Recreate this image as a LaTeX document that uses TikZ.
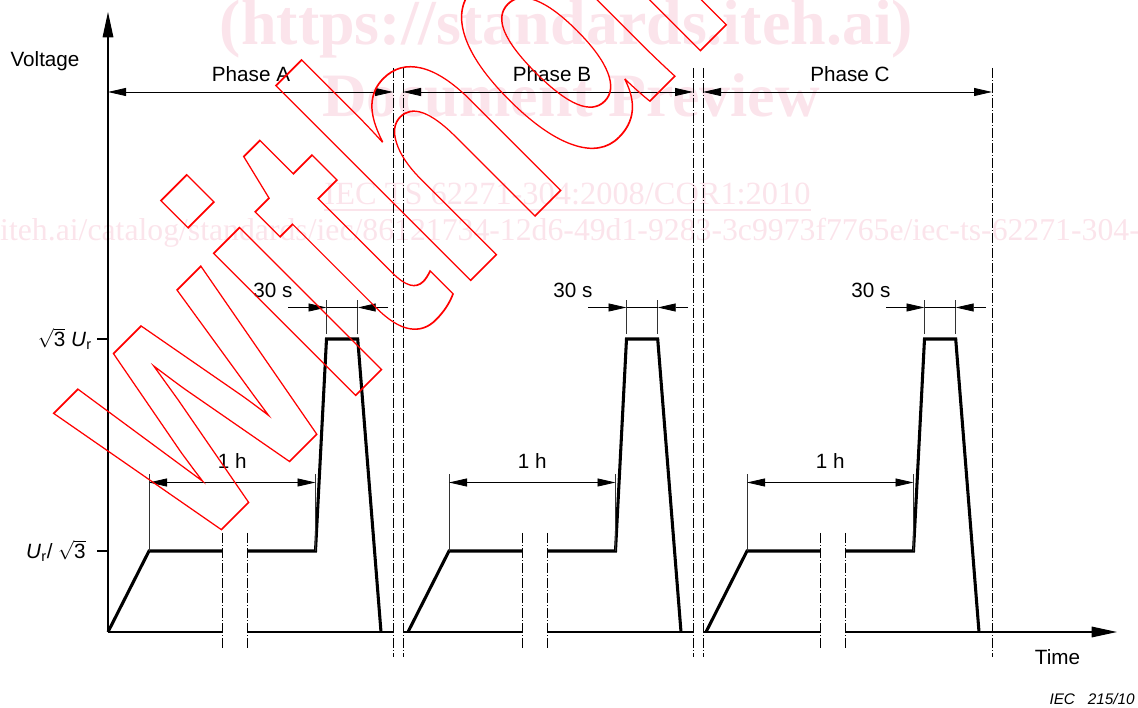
\documentclass[tikz,border=0pt]{standalone}
\usepackage{fontspec}
\setmainfont{Liberation Sans}
\newfontfamily\wmfont{Liberation Serif}
\usepackage{amsmath}
\usepackage{graphicx}
\usepackage{xcolor}
\usetikzlibrary{arrows.meta}
\definecolor{wmpink}{RGB}{251,228,235}
\definecolor{wmred}{RGB}{255,0,0}
\newcommand{\outlined}[1]{\special{pdf:literal direct 1 Tr 1.3 w}#1\special{pdf:literal direct 0 Tr}}

\begin{document}
\begin{tikzpicture}[x=0.75pt,y=0.75pt]
  \tikzset{axisline/.style={draw=black,line width=0.8pt}}
  \tikzset{axisarrow/.style={axisline,-{Triangle[length=19pt,width=8pt]}}}
  \tikzset{waveline/.style={draw=black,line width=2.3pt,line join=miter}}
  \tikzset{dimline/.style={draw=black,line width=0.6pt}}
  \tikzset{dimarrow/.style={dimline,-{Triangle[length=13.5pt,width=6pt]}}}
  \tikzset{dimboth/.style={dimline,{Triangle[length=13.5pt,width=6pt]}-{Triangle[length=13.5pt,width=6pt]}}}
  \tikzset{extline/.style={draw=black!80,line width=0.6pt}}
  \tikzset{cutline/.style={draw=black,line width=0.55pt,dash pattern=on 7.5pt off 1.5pt on 0.75pt off 1.5pt}}
  \tikzset{lbl/.style={font=\fontsize{15.5}{18}\selectfont,inner sep=0pt}}
  \tikzset{wmtext/.style={text=wmpink,inner sep=0pt}}
  \useasboundingbox (0,0) rectangle (1138,707);

  % watermark text
  \begin{scope}
    \clip (0,0) rectangle (1138,707);
    \node[wmtext,anchor=base,font=\wmfont\bfseries\fontsize{48}{52}\selectfont] (wmsite) at (566.5,662) {(https://standards.iteh.ai)};
    \node[wmtext,anchor=base,font=\wmfont\bfseries\fontsize{46.3}{50}\selectfont] (wmprev) at (571,590) {Document Preview};
    \node[wmtext,anchor=base,font=\wmfont\fontsize{24.3}{28}\selectfont] (wmstd) at (567.5,502) {\underline{IEC TS 62271-304:2008/COR1:2010}};
    \node[wmtext,anchor=base west,font=\wmfont\fontsize{23.8}{28}\selectfont] (wmlink) at (-216,466) {https://standards.iteh.ai/catalog/standards/iec/86121734-12d6-49d1-9283-3c9973f7765e/iec-ts-62271-304-2008-cor1-2010};
  \end{scope}

  % axes
  \coordinate (ytip) at (108,695);
  \coordinate (xtip) at (1117,75);
  \coordinate (tickhi) at (97,368);
  \coordinate (ticklo) at (97,156);

  % phase separators
  \foreach \n/\x in {1/393,2/403,3/693,4/703,5/992} {
    \coordinate (div\n-t) at (\x,639);
    \coordinate (div\n-b) at (\x,50);
    \coordinate (div\n-o) at (\x,75);
    \draw[cutline] (div\n-t) -- (div\n-b);
  }

  \foreach \ph/\dx in {a/0,b/300,c/598} {
    \coordinate (\ph-start) at (108+\dx,75);
    \coordinate (\ph-ramp) at (149+\dx,156);
    \coordinate (\ph-cut1) at (222+\dx,156);
    \coordinate (\ph-cut2) at (247+\dx,156);
    \coordinate (\ph-step) at (315.5+\dx,156);
    \coordinate (\ph-pkl) at (326.5+\dx,368);
    \coordinate (\ph-pkr) at (357.7+\dx,368);
    \coordinate (\ph-end) at (381+\dx,75);
    \coordinate (\ph-b1) at (222+\dx,75);
    \coordinate (\ph-b2) at (247+\dx,75);
    \coordinate (\ph-c1t) at (222+\dx,174);
    \coordinate (\ph-c1b) at (222+\dx,57);
    \coordinate (\ph-c2t) at (247+\dx,174);
    \coordinate (\ph-c2b) at (247+\dx,57);
    \draw[cutline] (\ph-c1t) -- (\ph-c1b);
    \draw[cutline] (\ph-c2t) -- (\ph-c2b);
    \draw[waveline] (\ph-start) -- (\ph-ramp) -- (\ph-cut1);
    \draw[waveline] (\ph-cut2) -- (\ph-step) -- (\ph-pkl) -- (\ph-pkr) -- (\ph-end);
    % 1 h
    \coordinate (\ph-hl) at (149+\dx,233);
    \coordinate (\ph-hr) at (315.5+\dx,233);
    \draw[extline] (\ph-ramp) -- (\ph-hl);
    \draw[extline] (\ph-step) -- (\ph-hr);
    \coordinate (\ph-dl) at (149+\dx,224.5);
    \coordinate (\ph-dr) at (315.5+\dx,224.5);
    \draw[dimboth] (\ph-dl) -- node[lbl,above=10pt] (\ph-hour) {1 h} (\ph-dr);
    % 30 s
    \coordinate (\ph-sl) at (326.5+\dx,407);
    \coordinate (\ph-sr) at (357.7+\dx,407);
    \coordinate (\ph-sl0) at (326.5+\dx,373);
    \coordinate (\ph-sr0) at (357.7+\dx,373);
    \draw[extline] (\ph-sl0) -- (\ph-sl);
    \draw[extline] (\ph-sr0) -- (\ph-sr);
    \coordinate (\ph-al) at (326.5+\dx,399.5);
    \coordinate (\ph-ar) at (357.7+\dx,399.5);
    \coordinate (\ph-al0) at (288+\dx,399.5);
    \coordinate (\ph-ar0) at (388+\dx,399.5);
    \draw[dimarrow] (\ph-al0) -- (\ph-al);
    \draw[dimarrow] (\ph-ar0) -- (\ph-ar);
    \draw[dimline] (\ph-al) -- (\ph-ar);
    \node[lbl] (\ph-sec) at (273+\dx,416.3) {30 s};
  }

  % time axis, broken at the cuts
  \draw[axisarrow] (a-start) -- (ytip);
  \draw[axisline] (a-start) -- (a-b1);
  \draw[axisline] (a-b2) -- (div1-o);
  \draw[axisline] (div2-o) -- (b-b1);
  \draw[axisline] (b-b2) -- (div3-o);
  \draw[axisline] (div4-o) -- (c-b1);
  \draw[axisarrow] (c-b2) -- (xtip);
  \draw[axisline] (tickhi) -- (tickhi -| a-start);
  \draw[axisline] (ticklo) -- (ticklo -| a-start);

  % phase spans
  \foreach \ph/\l/\r in {A/1/1,B/2/3,C/4/5} {
    \coordinate (ph\ph-l) at (div\l-o |- 0,615);
    \coordinate (ph\ph-r) at (div\r-o |- 0,615);
  }
  \coordinate (phA-l) at (108,615);
  \draw[dimboth] (phA-l) -- (phA-r);
  \draw[dimboth] (phB-l) -- (phB-r);
  \draw[dimboth] (phC-l) -- (phC-r);
  \node[lbl] (phaseA) at (251,633) {Phase A};
  \node[lbl] (phaseB) at (552,633) {Phase B};
  \node[lbl] (phaseC) at (850,633) {Phase C};

  \node[lbl] (voltage) at (45,646.3) {Voltage};
  \node[lbl] (time) at (1057.5,50) {Time};
  \node[lbl,anchor=east] (uhigh) at (92,368) {$\sqrt{\text{3}}$ \textit{U}\textsubscript{r}};
  \node[lbl,anchor=east] (ulow) at (86,156) {\textit{U}\textsubscript{r}/ $\sqrt{\text{3}}$};
  \node[font=\fontsize{11.5}{13}\selectfont\itshape,anchor=east,inner sep=0pt] (figno) at (1135,8) {IEC\ \ \ 215/10};

  % stamp
  \begin{scope}
    \clip (0,0) rectangle (1138,707);
    \node[anchor=base west,rotate=45,inner sep=0pt,text=wmred] (wmstamp) at (196,152) {\scalebox{0.70}[1]{\fontsize{285}{285}\selectfont\bfseries\outlined{withdrawn}}};
  \end{scope}
\end{tikzpicture}
\end{document}
